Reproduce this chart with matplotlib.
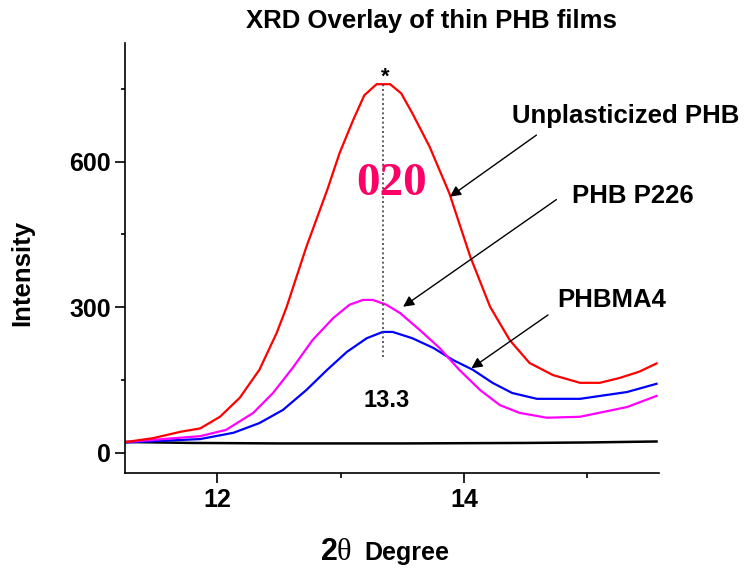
import matplotlib
matplotlib.use("Agg")
from matplotlib import pyplot as plt
from matplotlib.ticker import MultipleLocator

plt.rcParams['font.family'] = ['Liberation Sans', 'DejaVu Sans']
plt.rcParams['font.weight'] = 'bold'

## curve data (2theta, intensity)
red_x = [11.26, 11.48, 11.70, 11.86, 12.02, 12.18, 12.34, 12.48, 12.56, 12.72, 12.89, 12.99,
         13.10, 13.19, 13.29, 13.40, 13.49, 13.58, 13.72, 13.88, 14.05, 14.21, 14.37, 14.53,
         14.72, 14.94, 15.10, 15.26, 15.42, 15.56]
red_y = [22, 30, 43, 50, 74, 113, 171, 247, 300, 424, 542, 618,
         686, 737, 760, 760, 741, 700, 631, 535, 404, 301, 232, 185,
         160, 144, 144, 154, 167, 184]

mag_x = [11.26, 11.86, 12.07, 12.29, 12.45, 12.61, 12.77, 12.94, 13.07, 13.18, 13.26, 13.37,
         13.48, 13.64, 13.80, 13.96, 14.13, 14.29, 14.45, 14.67, 14.94, 15.32, 15.56]
mag_y = [22, 34, 47, 82, 123, 175, 232, 278, 305, 315, 315, 305,
         288, 253, 216, 171, 129, 98, 82, 72, 74, 94, 117]

blue_x = [11.26, 11.86, 12.13, 12.34, 12.53, 12.72, 12.89, 13.05, 13.21, 13.34, 13.42, 13.58,
          13.75, 13.91, 14.07, 14.23, 14.39, 14.59, 14.94, 15.32, 15.56]
blue_y = [21, 28, 41, 61, 88, 129, 171, 208, 236, 249, 249, 236,
          216, 191, 171, 144, 123, 111, 111, 125, 142]

black_x = [11.26, 11.8, 12.5, 13.5, 14.5, 15.0, 15.56]
black_y = [22, 20, 19, 19, 20, 21, 23]

peak_pos = 13.34
labels = ['Unplasticized PHB', 'PHB P226', 'PHBMA4']

fig = plt.figure(figsize=(7.44, 5.68), dpi=100)
ax = fig.add_axes([125/744, 1-473/568, (659-125)/744, (473-43)/568])

ax.plot(black_x, black_y, color='black', lw=1.8)
ax.plot(blue_x, blue_y, color='#0000FF', lw=1.6)
ax.plot(mag_x, mag_y, color='#FF00FF', lw=1.6)
ax.plot(red_x, red_y, color='#FF0000', lw=1.6)

ax.vlines(peak_pos, 198, 760, colors='#444444', linestyles=(0, (1.2, 1.6)), lw=1.2)

ax.set_xlim(11.25, 15.58)
ax.set_ylim(-42, 845)
ax.xaxis.set_major_locator(MultipleLocator(2))
ax.xaxis.set_minor_locator(MultipleLocator(1))
ax.yaxis.set_major_locator(MultipleLocator(300))
ax.yaxis.set_minor_locator(MultipleLocator(150))

for s in ['top', 'right']:
    ax.spines[s].set_visible(False)
for s in ['left', 'bottom']:
    ax.spines[s].set_linewidth(1.2)

ax.tick_params(axis='both', which='major', direction='out', length=7, width=1.2, labelsize=18)
ax.tick_params(axis='x', which='minor', direction='out', length=3.5, width=1.2)
ax.tick_params(axis='y', which='minor', direction='out', length=3, width=1.2)
ax.tick_params(axis='y', which='major', pad=3)
ax.tick_params(axis='x', which='major', pad=4)

## annotations
ax.text(13.357, 763, '*', fontsize=16, ha='center', va='baseline')
ax.text(13.37, 94, '13.3', fontsize=17, ha='center', va='baseline')
ax.text(13.413, 531, '020', fontsize=34, ha='center', va='baseline', color='#FF0066',
        family=['Liberation Serif', 'DejaVu Serif'], weight='bold')

ax.text(14.386, 680, labels[0], fontsize=18.5, ha='left', va='baseline')
ax.text(14.878, 514, labels[1], fontsize=18.5, ha='left', va='baseline')
ax.text(14.759, 301, labels[2], fontsize=18.5, ha='left', va='baseline')

arr = dict(arrowstyle='-|>', color='black', lw=1.0, mutation_scale=16, shrinkA=0, shrinkB=0)
ax.annotate('', xy=(13.885, 528), xytext=(14.586, 655), arrowprops=arr)
ax.annotate('', xy=(13.505, 301), xytext=(14.748, 522), arrowprops=arr)
ax.annotate('', xy=(14.059, 174), xytext=(14.68, 284), arrowprops=arr)

## titles and axis labels
fig.text(431/744, 1-28/568, 'XRD Overlay of thin PHB films', fontsize=18.5, ha='center', va='baseline')
fig.text(22.5/744, 1-273/568, 'Intensity', fontsize=18.5, rotation=90, ha='center', va='center')
fig.text(321/744, 1-560/568, '2', fontsize=22, ha='left', va='baseline')
fig.text(337/744, 1-560/568, '\u03b8', fontsize=22, ha='left', va='baseline',
         family=['Liberation Serif', 'DejaVu Serif'], weight='normal')
fig.text(364/744, 1-560/568, 'Degree', fontsize=18, ha='left', va='baseline')

fig.savefig('out.png', dpi=100)
